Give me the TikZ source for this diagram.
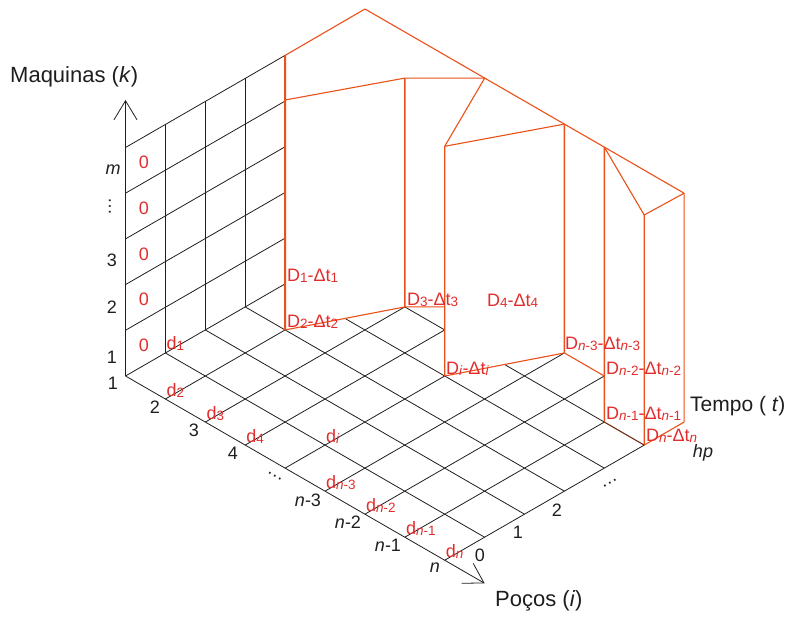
\documentclass[tikz,border=0pt]{standalone}
\usepackage{fontspec}
\setmainfont{Liberation Sans}
\usetikzlibrary{arrows.meta,calc}
\definecolor{redtxt}{RGB}{226,45,45}
\definecolor{orl}{RGB}{234,80,24}
\definecolor{brn}{RGB}{115,45,20}
\definecolor{gl}{RGB}{30,30,30}
\newcommand\sbs[1]{\raisebox{-1pt}{\fontsize{13.5}{13.5}\selectfont #1}}
\newcommand\Dlab[1]{D\sbs{#1}-Δt\sbs{#1}}
\begin{document}
\begin{tikzpicture}[x=1pt,y=-1pt,
  lbl/.style={font=\fontsize{18}{18}\selectfont, inner sep=0pt, text=gl},
  big/.style={font=\fontsize{22}{22}\selectfont, inner sep=0pt, text=gl},
  rl/.style={lbl, text=redtxt},
  gridln/.style={draw=gl, line width=0.8pt},
  orng/.style={draw=orl, line width=1.1pt, line join=round},
  axarrow/.style={-{Straight Barb[length=19pt,width=23pt,line width=0.8pt]}}
]
\useasboundingbox (0,0) rectangle (788,617);

% floor grid points
\foreach \w in {0,...,9}{\foreach \t in {0,...,6}{
  \coordinate (g\w-\t) at ({125.5+39.9*(\w+\t)},{376+23.03*(\w-\t)});}}

% back wall
\foreach \k in {0,...,5}{
  \coordinate (wl\k) at (125.5,{376-45.7*\k});
  \coordinate (wr\k) at (285.1,{283.88-45.7*\k});
  \draw[gridln] (wl\k) -- (wr\k);}
\foreach \t in {1,2,3}{\draw[gridln] (g0-\t) -- ++(0,-228.5);}
\coordinate (ktip) at (125.5,100);
\draw[gridln,axarrow] (g0-0) -- (ktip);

% floor lines
\foreach \w/\T in {1/3,2/5,3/5,4/4,5/6,6/6,7/5,8/5}{\draw[gridln] (g\w-0) -- (g\w-\T);}
\foreach \t in {1,2,3}{\draw[gridln] (g0-\t) -- (g8-\t);}
\draw[gridln] ($(g1-4)!0.5!(g2-4)$) -- (g8-4);
\draw[gridln] (g2-5) -- (g3-5);
\draw[gridln] ($(g4-5)!0.5!(g5-5)$) -- (g7-5);
\draw[gridln,axarrow] (g0-0) -- (g9-0);

% orange structure
\coordinate (tA) at (285.1,55.4);
\coordinate (apex) at (365,9);
\coordinate (t1) at (484.7,78.1);
\coordinate (t2) at (564.4,124.1);
\coordinate (t3) at (604.3,147.1);
\coordinate (t4) at (684.1,193.2);
\coordinate (m0) at (285.1,100);
\coordinate (m1) at (404.8,78.1);
\coordinate (m2) at (444.7,146.3);
\coordinate (m3) at (644.2,215);
\coordinate (cD) at (444.7,306.94);

\draw[orng,line width=2pt] (tA) -- (g1-3);
\draw[orng] (tA) -- (apex) -- (t1) -- (t2) -- (t3) -- (t4);
\draw[orng] (m0) -- (m1) -- (t1) -- (m2) -- (t2);
\draw[orng] (t3) -- (m3) -- (t4);
\draw[orng,line width=1.4pt] (m1) -- (g2-5);
\draw[orng] (m2) -- (g4-4);
\draw[orng,line width=1.4pt] (t2) -- (g5-6);
\draw[orng,line width=1.4pt] (t3) -- (g7-5);
\draw[orng] (m3) -- (g8-5);
\draw[orng] (t4) -- (g8-6);
\draw[orng] (g1-3) -- (g2-5) -- (cD);
\draw[orng] (g4-4) -- (g5-6) -- (g6-6);
\draw[orng] (g8-5) -- (g8-6);
\draw[draw=brn,line width=1.1pt] (g7-5) -- (g8-5);

% machine axis labels
\node[big,anchor=base west] (maq) at (10,83) {Maquinas (\textit{k\/})};
\node[lbl,anchor=base] (km) at (113,175) {\textit{m}};
\node[lbl,rotate=90] (kdots) at (110,207) {…};
\node[lbl,anchor=base] (k3) at (112,266.5) {3};
\node[lbl,anchor=base] (k2) at (112,313.5) {2};
\node[lbl,anchor=base] (k1) at (112,363.5) {1};

% red zeros
\foreach \y [count=\i] in {168.4,214.4,260.4,305.4,351.4}{
  \node[rl,anchor=base] (z\i) at (144,\y) {0};}

% well labels
\node[lbl,anchor=base] (w1) at (113,389.5) {1};
\node[lbl,anchor=base] (w2) at (155,413.5) {2};
\node[lbl,anchor=base] (w3) at (194,436.5) {3};
\node[lbl,anchor=base] (w4) at (233,459.5) {4};
\node[lbl,rotate=-30] (wdots) at (275,476) {…};
\node[lbl,anchor=base] (wn3) at (308,506.5) {\textit{n}-3};
\node[lbl,anchor=base] (wn2) at (348,528.5) {\textit{n}-2};
\node[lbl,anchor=base] (wn1) at (388,552) {\textit{n}-1};
\node[lbl,anchor=base] (wn) at (435,573) {\textit{n}};
\node[big,anchor=base west] (pocos) at (495,607) {Poços (\textit{i\/})};

% d labels
\node[rl,anchor=base west] (d1) at ($(g0-1)+(1,-3)$) {d\sbs{1}};
\node[rl,anchor=base west] (d2) at ($(g1-0)+(1,-3)$) {d\sbs{2}};
\node[rl,anchor=base west] (d3) at ($(g2-0)+(1,-3)$) {d\sbs{3}};
\node[rl,anchor=base west] (d4) at ($(g3-0)+(1,-3)$) {d\sbs{4}};
\node[rl,anchor=base west] (di) at ($(g4-1)+(1,-3)$) {d\sbs{\textit{i}}};
\node[rl,anchor=base west] (dn3) at ($(g5-0)+(1,-3)$) {d\sbs{\textit{n}-3}};
\node[rl,anchor=base west] (dn2) at ($(g6-0)+(1,-3)$) {d\sbs{\textit{n}-2}};
\node[rl,anchor=base west] (dn1) at ($(g7-0)+(1,-3)$) {d\sbs{\textit{n}-1}};
\node[rl,anchor=base west] (dn) at ($(g8-0)+(1,-3)$) {d\sbs{\textit{n}}};

% time labels
\node[lbl,anchor=base] (t0l) at (480,561.5) {0};
\node[lbl,anchor=base] (t1l) at (518,538.5) {1};
\node[lbl,anchor=base] (t2l) at (557,516.5) {2};
\node[lbl,rotate=30] (tdots) at (610,483) {…};
\node[lbl,anchor=base] (hp) at (703,458) {\textit{hp}};
\node[big,font=\fontsize{21}{21}\selectfont,anchor=base west] (tempo) at (690,412) {Tempo ( \textit{t\/})};

% D labels
\node[rl,anchor=base west] (D1) at (287,281.5) {\Dlab{1}};
\node[rl,anchor=base west] (D2) at (287,327.5) {\Dlab{2}};
\node[rl,anchor=base west] (D3) at (407,305.5) {\Dlab{3}};
\node[rl,anchor=base west] (D4) at (487,306.5) {\Dlab{4}};
\node[rl,anchor=base west] (Di) at (446,374.5) {\Dlab{\textit{i}}};
\node[rl,anchor=base west] (Dn3) at (565,349.5) {\Dlab{\textit{n}-3}};
\node[rl,anchor=base west] (Dn2) at (606,374.5) {\Dlab{\textit{n}-2}};
\node[rl,anchor=base west] (Dn1) at (606,419.5) {\Dlab{\textit{n}-1}};
\node[rl,anchor=base west] (Dn) at (646,441.5) {\Dlab{\textit{n}}};
\end{tikzpicture}
\end{document}
